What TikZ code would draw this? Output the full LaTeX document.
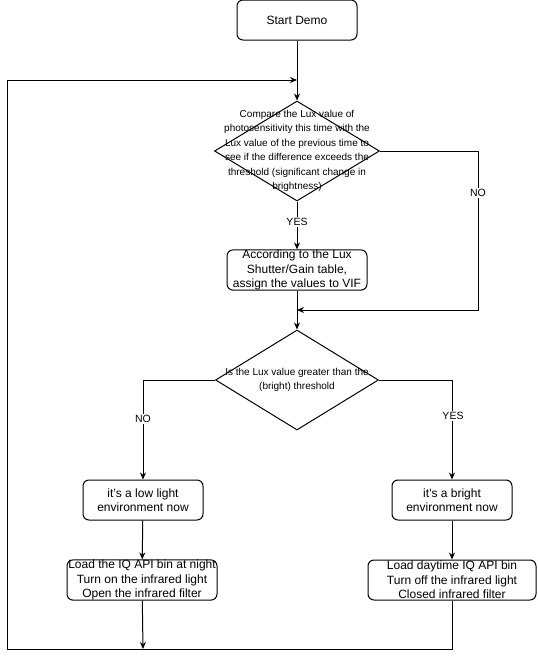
\documentclass[tikz,border=0pt]{standalone}
\usepackage{fontspec}
\setmainfont{Liberation Sans}
\usetikzlibrary{positioning, shapes.geometric, arrows.meta}

\tikzset{
  box/.style={draw, rounded corners=6pt, align=center, inner sep=0pt,
    font=\fontsize{12}{14.5}\selectfont},
  decision/.style={draw, diamond, inner sep=0pt},
  dtext/.style={align=center, inner sep=0pt, font=\fontsize{10}{14.4}\selectfont},
  lbl/.style={fill=white, inner sep=1pt, font=\fontsize{10.5}{12}\selectfont}
}

\begin{document}
\begin{tikzpicture}[x=1pt, y=-1pt, line width=1pt, >={Stealth[length=7pt,width=6pt]}]
      \useasboundingbox (0,0) rectangle (538,659);
      % boxes
      \node[box, minimum width=120pt, minimum height=40pt] (start) at (297,20) {Start Demo};
      \node[decision, minimum width=165pt, minimum height=100pt,
        label={[dtext]center:Compare the Lux value of\\photosensitivity this time with the\\Lux value of the previous time to\\see if the difference exceeds the\\threshold (significant change in\\brightness)}] (cmp) at (297,151) {};
      \node[box, minimum width=140pt, minimum height=40pt] (assign) at (297,270)
        {According to the Lux\\Shutter/Gain table,\\assign the values to VIF};
      \node[decision, minimum width=163pt, minimum height=100pt,
        label={[dtext]center:Is the Lux value greater than the\\(bright) threshold}] (bright) at (297,380) {};
      \node[box, minimum width=120pt, minimum height=40pt] (low) at (143,500) {it's a low light\\environment now};
      \node[box, minimum width=120pt, minimum height=40pt] (high) at (452,500) {it's a bright\\environment now};
      \node[box, minimum width=150pt, minimum height=40pt] (night) at (142,580)
        {Load the IQ API bin at night\\Turn on the infrared light\\Open the infrared filter};
      \node[box, minimum width=168pt, minimum height=40pt] (day) at (452,580)
        {Load daytime IQ API bin\\Turn off the infrared light\\Closed infrared filter};
      % joints
      \coordinate (loopin) at (297,80);
      \coordinate (noin) at (297,310);
      \coordinate (nocorner) at (478,310);
      \coordinate (bottomin) at (143,649);
      \coordinate (loopcorner) at (7,649);
      % connectors
      \draw[->] (start) -- (cmp);
      \draw[->] (cmp) -- (assign);
      \draw[->] (cmp.east) -| (nocorner) -- (noin);
      \draw[->] (assign) -- (bright);
      \draw[->] (bright.west) -| (low);
      \draw[->] (bright.east) -| (high);
      \draw[->] (low) -- (night);
      \draw[->] (high) -- (day);
      \draw[->] (night) -- (bottomin);
      \draw[->] (day.south) |- (loopcorner) |- (loopin);
      % labels
      \node[lbl] (yes1) at (297,222) {YES};
      \node[lbl] (no1) at (478,193) {NO};
      \node[lbl] (no2) at (143,419) {NO};
      \node[lbl] (yes2) at (453,416) {YES};
    \end{tikzpicture}
\end{document}
